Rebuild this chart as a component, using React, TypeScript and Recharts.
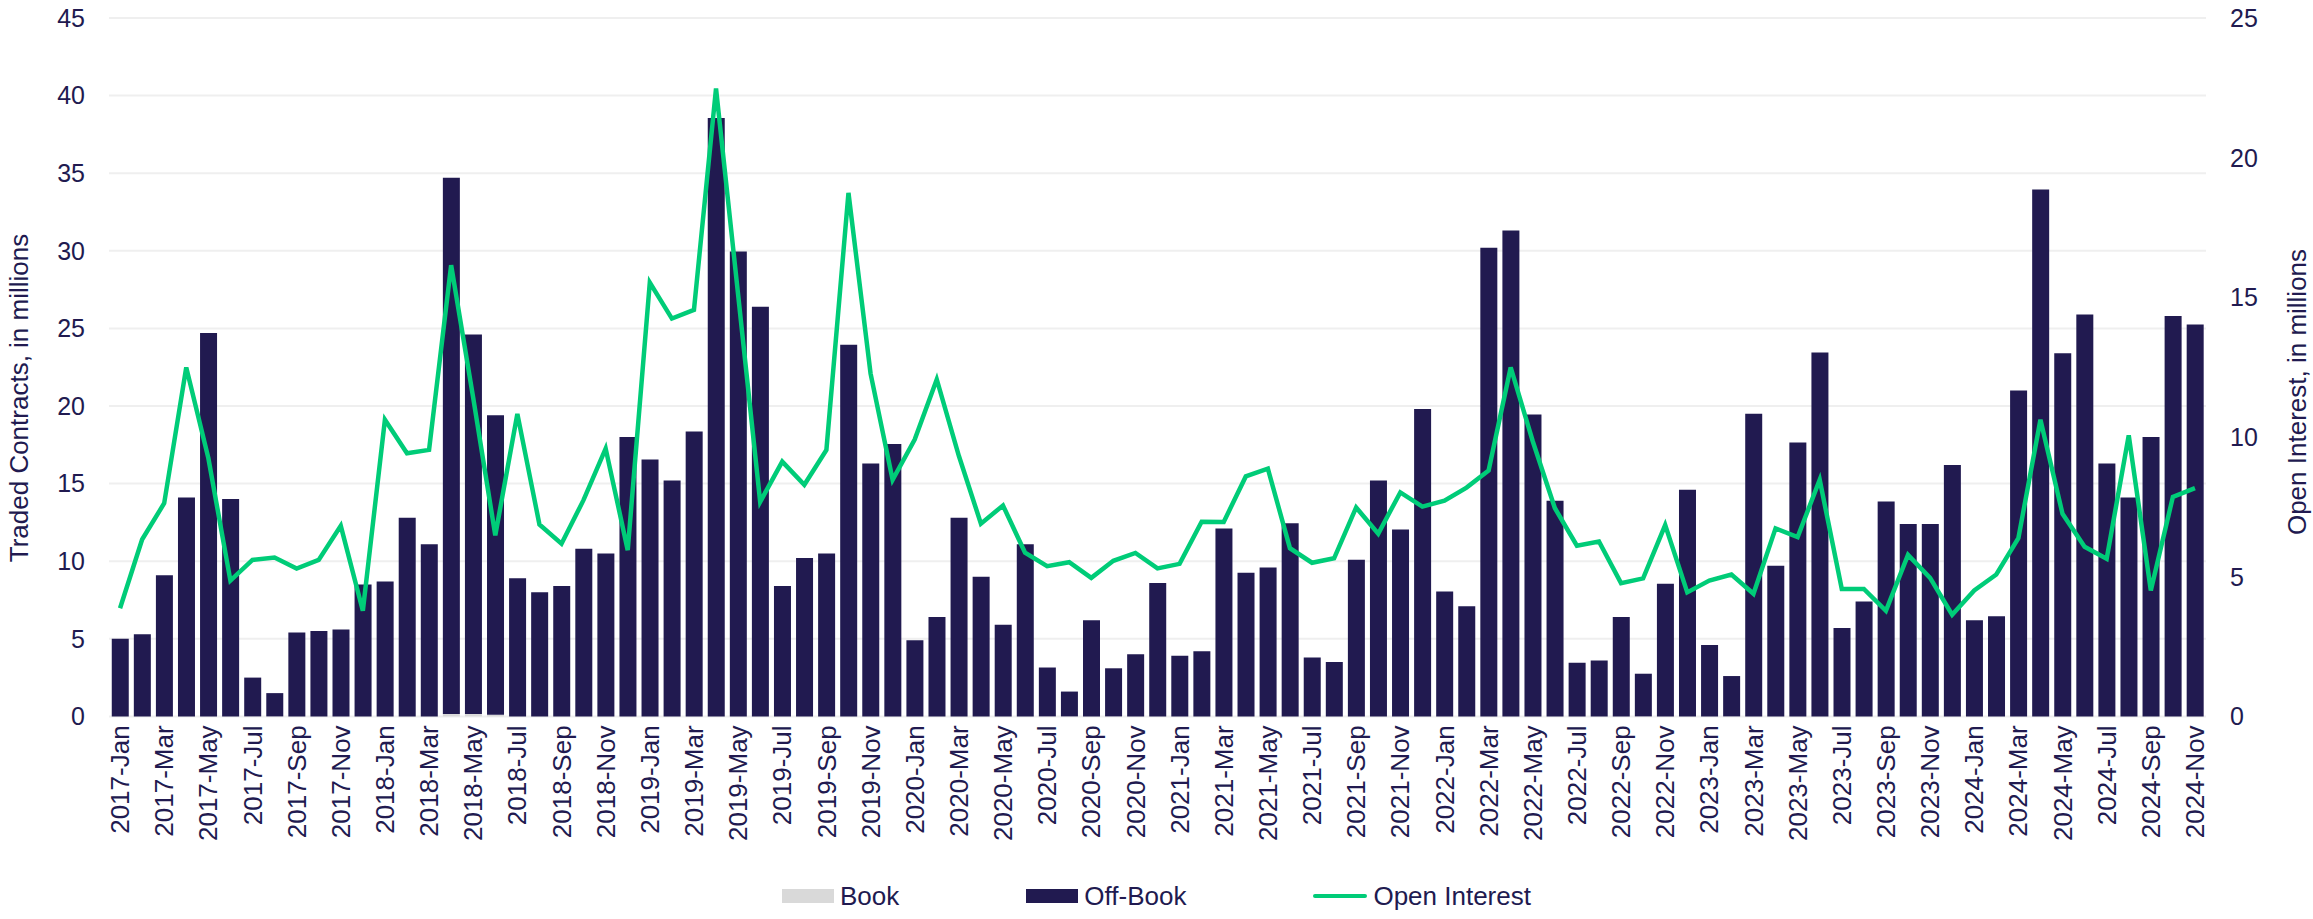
import React from 'react';
import { ComposedChart, Bar, Line, XAxis, YAxis, CartesianGrid } from 'recharts';

document.body.style.margin = '0';

// ---------------------------------------------------------------------------
// Data (millions)
// ---------------------------------------------------------------------------

const YEARS = [2017, 2018, 2019, 2020, 2021, 2022, 2023, 2024];
const MONTH_NAMES = ['Jan', 'Feb', 'Mar', 'Apr', 'May', 'Jun', 'Jul', 'Aug', 'Sep', 'Oct', 'Nov', 'Dec'];
const months = YEARS.flatMap(y => MONTH_NAMES.map(m => `${y}-${m}`)).slice(0, 95);

const book = [
  0, 0, 0, 0, 0, 0, 0, 0, 0, 0, 0, 0,
  0, 0, 0, 0.15, 0.15, 0.1, 0, 0, 0, 0, 0, 0,
  0, 0, 0, 0, 0, 0, 0, 0, 0, 0, 0, 0,
  0, 0, 0, 0, 0, 0, 0, 0, 0, 0, 0, 0,
  0, 0, 0, 0, 0, 0, 0, 0, 0, 0, 0, 0,
  0, 0, 0, 0, 0, 0, 0, 0, 0, 0, 0, 0,
  0, 0, 0, 0, 0, 0, 0, 0, 0, 0, 0, 0,
  0, 0, 0, 0, 0, 0, 0, 0, 0, 0, 0,
];

const offBook = [
  5.0, 5.3, 9.1, 14.1, 24.7, 14.0, 2.5, 1.5, 5.4, 5.5, 5.6, 8.5,
  8.7, 12.8, 11.1, 34.55, 24.45, 19.3, 8.9, 8.0, 8.4, 10.8, 10.5, 18.0,
  16.55, 15.2, 18.35, 38.55, 29.95, 26.4, 8.4, 10.2, 10.5, 23.95, 16.3, 17.55,
  4.9, 6.4, 12.8, 9.0, 5.9, 11.1, 3.15, 1.6, 6.2, 3.1, 4.0, 8.6,
  3.9, 4.2, 12.1, 9.25, 9.6, 12.45, 3.8, 3.5, 10.1, 15.2, 12.05, 19.8,
  8.05, 7.1, 30.2, 31.3, 19.45, 13.9, 3.45, 3.6, 6.4, 2.75, 8.55, 14.6,
  4.6, 2.6, 19.5, 9.7, 17.65, 23.45, 5.7, 7.4, 13.85, 12.4, 12.4, 16.2,
  6.2, 6.45, 21.0, 33.95, 23.4, 25.9, 16.3, 14.1, 18.0, 25.8, 25.25,
];

const openInterest = [
  3.87, 6.33, 7.63, 12.49, 9.25, 4.86, 5.6, 5.69, 5.29, 5.6, 6.82, 3.78,
  10.62, 9.42, 9.54, 16.15, 11.4, 6.48, 10.83, 6.87, 6.18, 7.75, 9.59, 5.95,
  15.53, 14.24, 14.55, 22.48, 15.1, 7.68, 9.12, 8.29, 9.54, 18.74, 12.28, 8.47,
  9.91, 12.06, 9.33, 6.9, 7.55, 5.86, 5.38, 5.52, 4.96, 5.57, 5.85, 5.3,
  5.46, 6.97, 6.96, 8.59, 8.87, 6.02, 5.5, 5.66, 7.48, 6.54, 8.02, 7.51,
  7.72, 8.19, 8.8, 12.49, 9.85, 7.46, 6.11, 6.26, 4.77, 4.94, 6.85, 4.44,
  4.86, 5.08, 4.39, 6.73, 6.42, 8.47, 4.56, 4.56, 3.78, 5.78, 4.96, 3.64,
  4.51, 5.08, 6.38, 10.62, 7.25, 6.07, 5.64, 10.06, 4.51, 7.86, 8.17,
];

const LEFT_TICKS = [0, 5, 10, 15, 20, 25, 30, 35, 40, 45];
const RIGHT_TICKS = [0, 5, 10, 15, 20, 25];

// ---------------------------------------------------------------------------
// Styling
// ---------------------------------------------------------------------------

const INK = '#211A50';
const BAR = '#211A50';
const BOOK = '#D9D9D9';
const GREEN = '#00CC78';
const FONT = '"Liberation Sans", Arial, sans-serif';
const W = 2313;
const H = 919;

const chartData = months.map((month, i) => ({
  month, book: book[i], offBook: offBook[i], oi: openInterest[i],
}));

function MonthTick({ x, y, payload }: { x?: number; y?: number; payload?: { value: string } }) {
  return (
    <text transform={`translate(${x},${(y ?? 0) + 9}) rotate(-90)`} textAnchor="end" dy="0.35em"
      fontSize={26} fill={INK} fontFamily={FONT}>{payload?.value}</text>
  );
}

function AxisTitle({ x, y, text }: { x: number; y: number; text: string }) {
  return (
    <text transform={`translate(${x},${y}) rotate(-90)`} textAnchor="middle" dy="0.35em"
      fontSize={26} fill={INK} fontFamily={FONT}>{text}</text>
  );
}

function LegendRow() {
  const item = { display: 'flex', alignItems: 'center', gap: 6 } as const;
  return (
    <div style={{ position: 'absolute', left: 0, top: 880, width: W, display: 'flex', justifyContent: 'center', gap: 127,
      fontFamily: FONT, fontSize: 26, color: INK, lineHeight: '32px' }}>
      <div style={item}><span style={{ width: 52, height: 14, background: BOOK, display: 'inline-block' }} />Book</div>
      <div style={item}><span style={{ width: 52, height: 14, background: BAR, display: 'inline-block' }} />Off-Book</div>
      <div style={item}><span style={{ width: 54, height: 4, background: GREEN, borderRadius: 2, display: 'inline-block' }} />Open Interest</div>
    </div>
  );
}

export default function App() {
  const tickStyle = { fontSize: 25, fill: INK, fontFamily: FONT };
  return (
    <div style={{ position: 'relative', width: W, height: H, background: '#fff' }}>
      <ComposedChart width={W} height={H} data={chartData} barCategoryGap="12.5%"
        margin={{ top: 18, right: 0, left: 0, bottom: 72.6 }}>
        <CartesianGrid vertical={false} stroke="#EFEFEF" strokeWidth={2} />
        <XAxis dataKey="month" interval={1} axisLine={false} tickLine={false} tickSize={0} tickMargin={0}
          height={130} tick={<MonthTick />} />
        <YAxis width={109} domain={[0, 45]} ticks={LEFT_TICKS} axisLine={false} tickLine={false}
          tickSize={0} tickMargin={24} tick={tickStyle}
          label={{ content: () => <AxisTitle x={19} y={398} text="Traded Contracts, in millions" /> }} />
        <YAxis yAxisId="right" orientation="right" width={107} domain={[0, 25]} ticks={RIGHT_TICKS}
          axisLine={false} tickLine={false} tickSize={0} tickMargin={24} tick={tickStyle}
          label={{ content: () => <AxisTitle x={2297} y={392} text="Open Interest, in millions" /> }} />
        <Bar dataKey="book" name="Book" stackId="a" fill={BOOK} isAnimationActive={false} />
        <Bar dataKey="offBook" name="Off-Book" stackId="a" fill={BAR} isAnimationActive={false} />
        <Line yAxisId="right" dataKey="oi" name="Open Interest" type="linear" stroke={GREEN} strokeWidth={4.5}
          dot={false} activeDot={false} isAnimationActive={false} />
      </ComposedChart>
      <LegendRow />
    </div>
  );
}
